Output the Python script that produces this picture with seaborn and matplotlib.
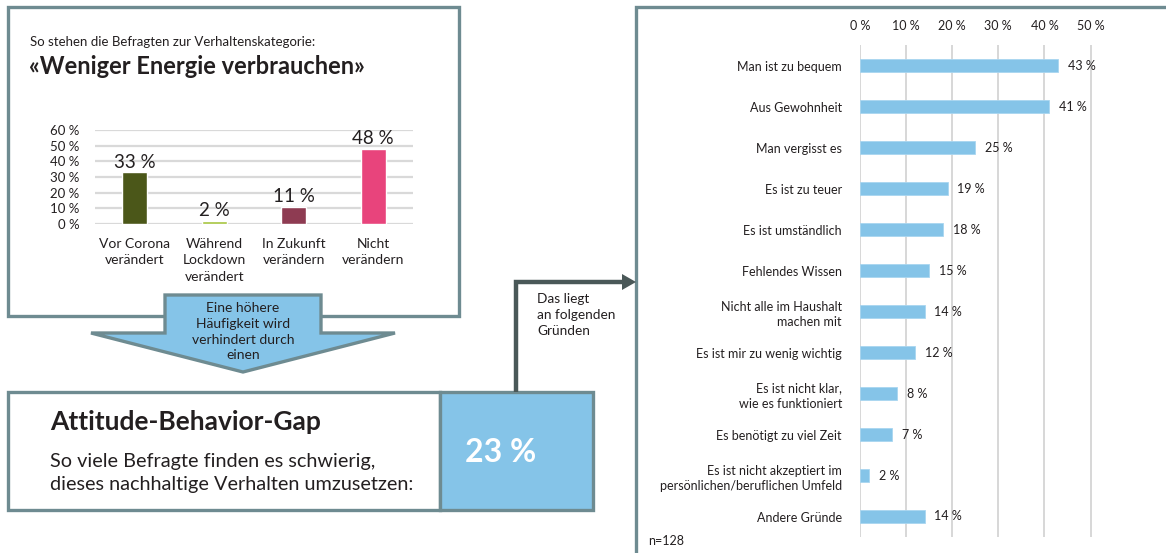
import matplotlib
matplotlib.use("Agg")
import matplotlib.pyplot as plt
from matplotlib.patches import Rectangle, Polygon
import seaborn as sns

# ---- data ----
stance_categories = ["Vor Corona\nverändert", "Während\nLockdown\nverändert",
                     "In Zukunft\nverändern", "Nicht\nverändern"]
stance_values = [33, 2, 11, 48]
stance_colors = ["#4b5719", "#a5c43c", "#8e3b52", "#e8447c"]
stance_ticks = [0, 10, 20, 30, 40, 50, 60]

reasons = ["Man ist zu bequem", "Aus Gewohnheit", "Man vergisst es",
           "Es ist zu teuer", "Es ist umständlich", "Fehlendes Wissen",
           "Nicht alle im Haushalt\nmachen mit", "Es ist mir zu wenig wichtig",
           "Es ist nicht klar,\nwie es funktioniert", "Es benötigt zu viel Zeit",
           "Es ist nicht akzeptiert im\npersönlichen/beruflichen Umfeld",
           "Andere Gründe"]
reason_values = [43, 41, 25, 19, 18, 15, 14, 12, 8, 7, 2, 14]
reason_ticks = [0, 10, 20, 30, 40, 50]

gap_share = 23
sample_size = 128

# ---- style ----
sns.set_theme(style="white")
plt.rcParams["font.family"] = ["Lato", "DejaVu Sans"]
TEXT = "#231f20"
FRAME = "#6e8b91"
BLUE = "#85c4e8"
CONNECT = "#4a5858"

W, H = 1166, 553
fig = plt.figure(figsize=(W / 100, H / 100), dpi=100)


def fx(x):
    return x / W


def fy(y):
    return 1 - y / H


def px_rect(x0, y0, x1, y1):
    return [fx(x0), fy(y1), (x1 - x0) / W, (y1 - y0) / H]


# ---- frames and connectors (figure coordinates in pixels) ----
overlay = fig.add_axes([0, 0, 1, 1], zorder=0)
overlay.set_xlim(0, W)
overlay.set_ylim(H, 0)
overlay.axis("off")

overlay.add_patch(Rectangle((8, 7), 451, 309, facecolor="white",
                            edgecolor=FRAME, lw=2.4))
overlay.add_patch(Rectangle((636, 7), 600, 600, facecolor="white",
                            edgecolor=FRAME, lw=2.4))
overlay.add_patch(Rectangle((8, 392), 432, 118, facecolor="white",
                            edgecolor=FRAME, lw=2.4))
overlay.add_patch(Rectangle((440, 392), 153, 118, facecolor=BLUE,
                            edgecolor=FRAME, lw=2.4))

# downward arrow
arrow_pts = [(165, 295), (321, 295), (321, 333), (395, 333),
             (243, 372), (91, 333), (165, 333)]
overlay.add_patch(Polygon(arrow_pts, closed=True, facecolor=BLUE,
                          edgecolor=FRAME, lw=2.4, joinstyle="miter"))
overlay.text(243, 302, "Eine höhere\nHäufigkeit wird\nverhindert durch\neinen",
             ha="center", va="top", fontsize=10, color=TEXT, linespacing=1.38)

# connector to the reasons panel
overlay.plot([516, 516, 624], [392, 282, 282], color=CONNECT, lw=3.2,
             solid_joinstyle="miter", solid_capstyle="butt")
overlay.add_patch(Polygon([(622, 274), (636, 282), (622, 290)], closed=True,
                          facecolor=CONNECT, edgecolor="none"))
overlay.text(537, 293, "Das liegt\nan folgenden\nGründen", ha="left", va="top",
             fontsize=9.8, color=TEXT, linespacing=1.42)

# headings
overlay.text(30, 42, "So stehen die Befragten zur Verhaltenskategorie:",
             ha="left", va="center", fontsize=9.5, color=TEXT)
overlay.text(29, 66, "«Weniger Energie verbrauchen»", ha="left", va="center",
             fontsize=17, fontweight="bold", color=TEXT)

overlay.text(50, 422, "Attitude-Behavior-Gap", ha="left", va="center",
             fontsize=19, fontweight="bold", color=TEXT)
overlay.text(50, 473, "So viele Befragte finden es schwierig,\n"
             "dieses nachhaltige Verhalten umzusetzen:",
             ha="left", va="center", fontsize=14.3, color=TEXT, linespacing=1.45)
overlay.text(501, 453, f"{gap_share} %", ha="center", va="center",
             fontsize=23, fontweight="bold", color="white")

overlay.text(648, 541, f"n={sample_size}", ha="left", va="center",
             fontsize=9, color=TEXT)

# ---- left: stance bar chart ----
ax1 = fig.add_axes(px_rect(95, 130, 413, 224), zorder=1)
ax1.patch.set_alpha(0)
sns.barplot(x=stance_categories, y=stance_values, hue=stance_categories,
            palette=stance_colors, legend=False, width=0.315, ax=ax1,
            saturation=1)
ax1.set_ylim(0, 60)
ax1.set_yticks(stance_ticks)
ax1.set_yticklabels([f"{t} %" for t in stance_ticks])
ax1.yaxis.grid(True, color="#d9d9d9", lw=1.6)
ax1.set_axisbelow(True)
for s in ax1.spines.values():
    s.set_visible(False)
ax1.tick_params(axis="y", length=0, pad=11, labelsize=9.5, labelcolor=TEXT)
ax1.tick_params(axis="x", length=0, pad=10, labelsize=10, labelcolor=TEXT)
for lbl in ax1.get_xticklabels():
    lbl.set_linespacing(1.45)
for i, v in enumerate(stance_values):
    ax1.annotate(f"{v} %", (i, v), xytext=(0, 1), textcoords="offset points",
                 ha="center", va="bottom", fontsize=13.5, color=TEXT)
ax1.set_xlabel("")
ax1.set_ylabel("")

# ---- right: reasons bar chart ----
ax2 = fig.add_axes(px_rect(860, 45, 1160, 537), zorder=1)
ax2.patch.set_alpha(0)
sns.barplot(y=reasons, x=reason_values, orient="h", color=BLUE, width=0.33,
            ax=ax2, saturation=1, edgecolor="#a9d6f0", linewidth=0.6)
ax2.set_xlim(0, 300 / 4.61)
ax2.set_ylim(len(reasons) - 0.5, -0.5)
ax2.set_xticks(reason_ticks)
ax2.set_xticklabels([f"{t} %" for t in reason_ticks])
ax2.xaxis.tick_top()
ax2.xaxis.grid(True, color="#d4d4d4", lw=1.3)
ax2.set_axisbelow(True)
for s in ax2.spines.values():
    s.set_visible(False)
ax2.tick_params(axis="x", length=0, pad=9, labelsize=9, labelcolor=TEXT)
ax2.tick_params(axis="y", length=0, pad=13, labelsize=9, labelcolor=TEXT)
for lbl in ax2.get_yticklabels():
    lbl.set_linespacing(1.3)
for i, v in enumerate(reason_values):
    ax2.annotate(f"{v} %", (v, i), xytext=(7, 0), textcoords="offset points",
                 ha="left", va="center", fontsize=9, color=TEXT)
ax2.set_xlabel("")
ax2.set_ylabel("")

fig.savefig("out.png", dpi=100)
